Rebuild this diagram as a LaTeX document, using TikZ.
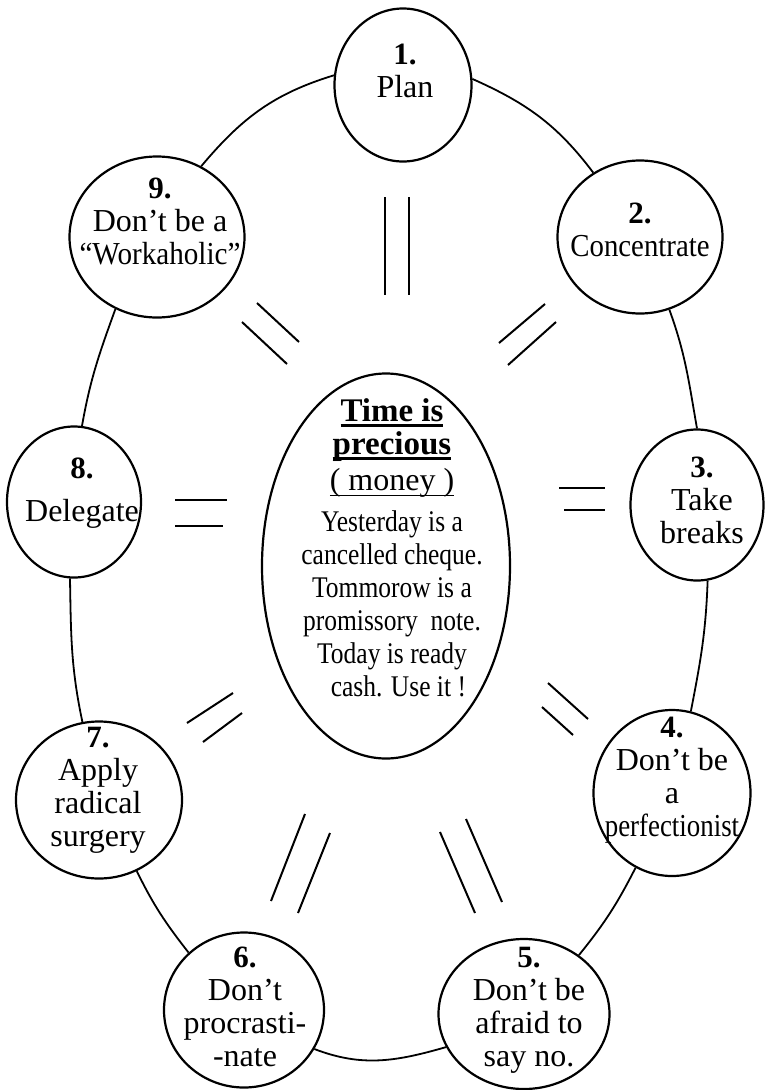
\documentclass[tikz,border=0pt]{standalone}
\usepackage{fontspec}
\setmainfont{Liberation Serif}
\newfontfamily\narrowfont[FakeStretch=0.85]{Liberation Serif}
\usepackage{graphicx}
\usetikzlibrary{shapes.geometric}

\newcommand\numb[1]{{\fontsize{31}{33}\selectfont\bfseries #1}}
\newcommand\slim{\narrowfont\fontsize{30}{30}\selectfont}
\newcommand\lined[2]{\setbox0\hbox{#2}\rlap{\rule[-5pt]{\wd0}{#1}}\box0}

\begin{document}
\begin{tikzpicture}[x=1pt, y=1pt,
    ring/.style = {draw, ellipse, line width=2.2pt, inner sep=0pt},
    txt/.style = {align=center, inner sep=0pt, font=\fontsize{32}{33}\selectfont},
    link/.style = {line width=1.8pt},
    pair/.style = {line width=2pt}]
  \useasboundingbox (0,0) rectangle (765,-1090);

  \node[ring, minimum width=248pt, minimum height=385pt] (0) at (386,-566) {};
  \node[ring, minimum width=137pt, minimum height=153pt] (1) at (403,-85) {};
  \node[ring, minimum width=165pt, minimum height=153pt] (2) at (640,-237) {};
  \node[ring, minimum width=133pt, minimum height=151pt] (3) at (697,-505) {};
  \node[ring, minimum width=157pt, minimum height=166pt] (4) at (672,-793) {};
  \node[ring, minimum width=171pt, minimum height=150pt] (5) at (524,-1014) {};
  \node[ring, minimum width=160pt, minimum height=155pt] (6) at (244,-1010) {};
  \node[ring, minimum width=166pt, minimum height=157pt] (7) at (99,-800) {};
  \node[ring, minimum width=134pt, minimum height=151pt] (8) at (74,-502) {};
  \node[ring, minimum width=175pt, minimum height=161pt] (9) at (157,-237) {};

  \node[txt] (t0) at (392,-548) {%
    \fontsize{33}{30}\selectfont\bfseries\lined{3pt}{Time is}\\
    \fontsize{33}{30}\selectfont\bfseries\lined{3pt}{precious}\\[3pt]
    \lined{1.2pt}{( money )}\\[8pt]
    \slim Yesterday is a\\ \slim cancelled cheque.\\ \slim Tommorow is a\\
    \slim promissory\ \ note.\\ \slim Today is ready\\ \slim \ \ cash. Use it !};
  \node[txt] (t1) at (405,-71) {\numb{1.}\\Plan};
  \node[txt] (t2) at (640,-230) {\numb{2.}\\\scalebox{0.9}[1]{Concentrate}};
  \node[txt] (t3) at (702,-500) {\numb{3.}\\Take\\breaks};
  \node[txt] (t4) at (672,-780) {\numb{4.}\\Don’t be\\a\\\scalebox{0.84}[1]{perfectionist}};
  \node[txt] (t5) at (529,-1010) {\numb{5.}\\Don’t be\\afraid to\\say no.};
  \node[txt] (t6) at (245,-1007) {\numb{6.}\\Don’t\\procrasti-\\-nate};
  \node[txt] (t7) at (98,-790) {\numb{7.}\\Apply\\radical\\surgery};
  \node[txt] (t8) at (82,-493) {\numb{8.}\\[10pt]Delegate};
  \node[txt] (t9) at (160,-221) {\numb{9.}\\Don’t be a\\\scalebox{0.91}[1]{“Workaholic”}};

  \draw[link] (1.5) to[out=-24, in=127] (2.126);
  \draw[link] (2.292) to[out=-70, in=100] (3.90);
  \draw[link] (3.278) to[out=-92, in=79] (4.77);
  \draw[link] (4.244) to[out=-117, in=51] (5.47);
  \draw[link] (5.203) to[out=-164, in=-21] (6.331);
  \draw[link] (6.134) to[out=128, in=-64] (7.298);
  \draw[link] (7.102) to[out=102, in=-89] (8.267);
  \draw[link] (8.84) to[out=80, in=-110] (9.240);
  \draw[link] (9.58) to[out=50, in=-163] (1.172);

  \draw[pair] (385,-197) -- (385,-295) (409,-197) -- (409,-295);
  \draw[pair] (545,-304) -- (499,-343) (556,-322) -- (508,-365);
  \draw[pair] (559,-488) -- (605,-488) (564,-510) -- (605,-510);
  \draw[pair] (548,-683) -- (588,-719) (542,-707) -- (573,-735);
  \draw[pair] (440,-832) -- (475,-913) (466,-819) -- (502,-902);
  \draw[pair] (305,-814) -- (271,-901) (330,-833) -- (298,-913);
  \draw[pair] (187,-723) -- (233,-693) (203,-742) -- (242,-713);
  \draw[pair] (175,-500) -- (227,-500) (175,-526) -- (223,-526);
  \draw[pair] (257,-303) -- (299,-342) (242,-322) -- (287,-364);
\end{tikzpicture}
\end{document}
